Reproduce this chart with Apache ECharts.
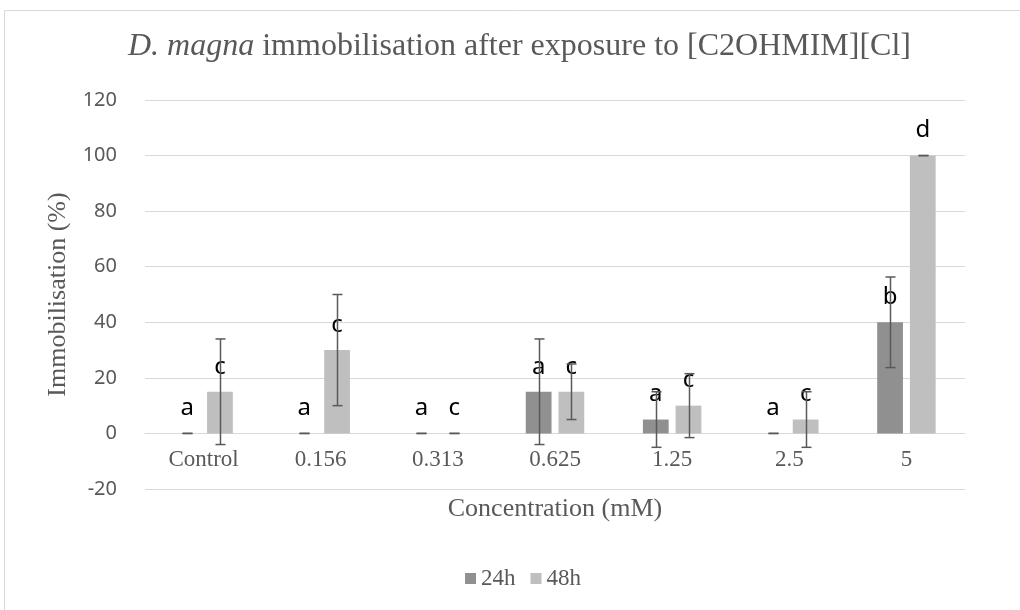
<!DOCTYPE html>
<html>
<head>
<meta charset="utf-8">
<script src="https://cdn.jsdelivr.net/npm/echarts@6/dist/echarts.min.js"></script>
<style>
  html, body { margin: 0; padding: 0; background: #fff; }
  #chart { width: 1020px; height: 610px; }
</style>
</head>
<body>
<div id="chart"></div>
<script>
// data
var categories = ["Control", "0.156", "0.313", "0.625", "1.25", "2.5", "5"];
var mean24 = [0, 0, 0, 15, 5, 0, 40];
var mean48 = [15, 30, 0, 15, 10, 5, 100];
var sd24 = [0, 0, 0, 19, 10, 0, 16.3];
var sd48 = [19, 20, 0, 10, 11.5, 10, 0];
var letters24 = ["a", "a", "a", "a", "a", "a", "b"];
var letters48 = ["c", "c", "c", "c", "c", "c", "d"];
var yTicks = [-20, 0, 20, 40, 60, 80, 100, 120];

var BAR_W = 0.22;   // share of the category band
var BAR_GAP = 0.27; // share of bar width

var chart = echarts.init(document.getElementById("chart"));

// error bar drawer, sign = -1 for left bar, +1 for right bar
function errorBars(sign) {
  return function (params, api) {
    var idx = api.value(0);
    var lo = api.coord([idx, api.value(1)]);
    var hi = api.coord([idx, api.value(2)]);
    var band = api.size([1, 0])[0];
    var shift = sign * band * (BAR_W + BAR_W * BAR_GAP) / 2;
    var x = Math.round(lo[0] + shift) + 0.5;
    var style = { stroke: "#595959", lineWidth: 1.5 };
    return {
      type: "group",
      children: [
        { type: "line", shape: { x1: x, y1: hi[1], x2: x, y2: lo[1] }, style: style },
        { type: "line", shape: { x1: x - 5, y1: hi[1], x2: x + 5, y2: hi[1] }, style: style },
        { type: "line", shape: { x1: x - 5, y1: lo[1], x2: x + 5, y2: lo[1] }, style: style }
      ]
    };
  };
}

function errData(mean, sd) {
  return mean.map(function (m, i) {
    return [i, m - sd[i], m + sd[i]];
  });
}

var letterLabel = function (arr) {
  return {
    show: true,
    position: "top",
    distance: 13,
    color: "#000",
    fontFamily: "Noto Sans",
    fontSize: 24,
    formatter: function (p) {
      return arr[p.dataIndex];
    }
  };
};

var option = {
  animation: false,
  backgroundColor: "#fff",
  title: {
    text: "{i|D. magna} immobilisation after exposure to [C2OHMIM][Cl]",
    left: 123,
    top: 26,
    textStyle: {
      fontFamily: "Liberation Serif",
      fontSize: 32,
      fontWeight: "normal",
      color: "#595959",
      rich: {
        i: { fontFamily: "Liberation Serif", fontSize: 32, fontStyle: "italic", color: "#595959" }
      }
    }
  },
  graphic: [
    {
      type: "rect",
      shape: { x: 4.5, y: 10.5, width: 1030, height: 620 },
      style: { fill: "none", stroke: "#d9d9d9", lineWidth: 1 },
      silent: true
    }
  ],
  legend: {
    data: ["24h", "48h"],
    bottom: 15,
    left: 460,
    itemWidth: 11,
    itemHeight: 11,
    itemGap: 15,
    icon: "rect",
    textStyle: { fontFamily: "Liberation Serif", fontSize: 23, color: "#595959" }
  },
  grid: {
    left: 145,
    right: 55,
    top: 100,
    bottom: 121,
    containLabel: false
  },
  xAxis: {
    type: "category",
    data: categories,
    offset: -55.5, // sit on the zero line
    name: "Concentration (mM)",
    nameLocation: "middle",
    nameGap: 63,
    nameTextStyle: { fontFamily: "Liberation Serif", fontSize: 26, color: "#595959" },
    axisLine: { onZero: false, lineStyle: { color: "#d9d9d9", width: 1 } },
    axisTick: { show: false },
    axisLabel: { fontFamily: "Liberation Serif", fontSize: 23, color: "#595959", margin: 15 }
  },
  yAxis: {
    type: "value",
    min: yTicks[0],
    max: yTicks[yTicks.length - 1],
    interval: 20,
    name: "Immobilisation (%)",
    nameLocation: "middle",
    nameGap: 74,
    nameTextStyle: { fontFamily: "Liberation Serif", fontSize: 26, color: "#595959" },
    axisLine: { show: false },
    axisTick: { show: false },
    axisLabel: { fontFamily: "Noto Sans", fontSize: 20, color: "#595959", margin: 28 },
    splitLine: { lineStyle: { color: "#d9d9d9", width: 1 } }
  },
  series: [
    {
      name: "24h",
      type: "bar",
      data: mean24,
      barWidth: BAR_W * 100 + "%",
      barGap: BAR_GAP * 100 + "%",
      itemStyle: { color: "#909090" },
      label: letterLabel(letters24)
    },
    {
      name: "48h",
      type: "bar",
      data: mean48,
      barWidth: BAR_W * 100 + "%",
      itemStyle: { color: "#bfbfbf" },
      label: letterLabel(letters48)
    },
    {
      type: "custom",
      renderItem: errorBars(-1),
      data: errData(mean24, sd24),
      z: 5
    },
    {
      type: "custom",
      renderItem: errorBars(1),
      data: errData(mean48, sd48),
      z: 5
    }
  ]
};

chart.setOption(option);
</script>
</body>
</html>
